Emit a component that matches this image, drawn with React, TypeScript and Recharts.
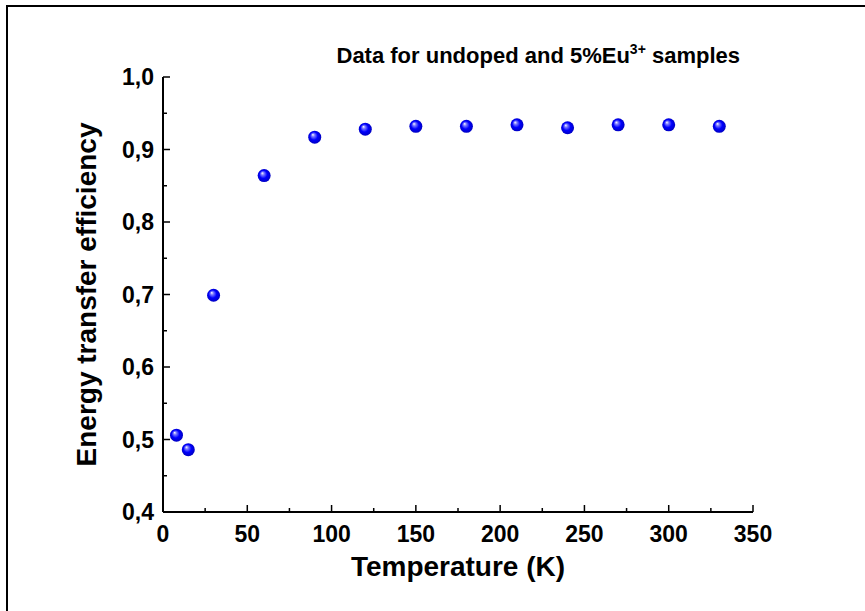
import { Scatter, ScatterChart, XAxis, YAxis } from 'recharts';

const TEMPERATURE = [8, 15, 30, 60, 90, 120, 150, 180, 210, 240, 270, 300, 330];
const EFFICIENCY = [0.506, 0.486, 0.699, 0.864, 0.917, 0.928, 0.932, 0.932, 0.934, 0.93, 0.934, 0.934, 0.932];

const X_TICKS = [0, 25, 50, 75, 100, 125, 150, 175, 200, 225, 250, 275, 300, 325, 350];
const Y_TICKS = [0.4, 0.45, 0.5, 0.55, 0.6, 0.65, 0.7, 0.75, 0.8, 0.85, 0.9, 0.95, 1.0];

const points = TEMPERATURE.map((t, i) => ({ t, eff: EFFICIENCY[i] }));

const FONT = '"Liberation Sans", Arial, sans-serif';
const MAJOR = 7;
const MINOR = 4;

const isMajorX = (v: number) => v % 50 === 0;
const isMajorY = (v: number) => Math.round(v * 100) % 10 === 0;
const fmtY = (v: number) => v.toFixed(1).replace('.', ',');

function LeftTick({ x, y, payload }: any) {
  const major = isMajorY(payload.value);
  return (
    <g>
      <line x1={x} x2={x + (major ? MAJOR : MINOR)} y1={y} y2={y} stroke="#000" strokeWidth={1.5} />
      {major && (
        <text x={x - 9} y={y} dy="0.36em" textAnchor="end" fontFamily={FONT} fontWeight="bold" fontSize={23} fill="#000">
          {fmtY(payload.value)}
        </text>
      )}
    </g>
  );
}

function RightTick({ x, y, payload }: any) {
  const len = isMajorY(payload.value) ? MAJOR : MINOR;
  return <line x1={x} x2={x - len} y1={y} y2={y} stroke="#000" strokeWidth={1.5} />;
}

function BottomTick({ x, y, payload }: any) {
  const major = isMajorX(payload.value);
  return (
    <g>
      <line x1={x} x2={x} y1={y} y2={y - (major ? MAJOR : MINOR)} stroke="#000" strokeWidth={1.5} />
      {major && (
        <text x={x} y={y + 30} textAnchor="middle" fontFamily={FONT} fontWeight="bold" fontSize={23} fill="#000">
          {payload.value}
        </text>
      )}
    </g>
  );
}

function TopTick({ x, y, payload }: any) {
  const len = isMajorX(payload.value) ? MAJOR : MINOR;
  return <line x1={x} x2={x} y1={y} y2={y + len} stroke="#000" strokeWidth={1.5} />;
}

function Ball({ cx, cy, index }: any) {
  const id = `ball-${index}`;
  return (
    <g>
      <defs>
        <radialGradient id={id} cx="50%" cy="50%" r="55%" fx="35%" fy="30%">
          <stop offset="0%" stopColor="#ffffff" />
          <stop offset="22%" stopColor="#7b7bff" />
          <stop offset="55%" stopColor="#0000ff" />
          <stop offset="100%" stopColor="#0000b8" />
        </radialGradient>
      </defs>
      <circle cx={cx} cy={cy} r={6.5} fill={`url(#${id})`} />
    </g>
  );
}

export default function App() {
  return (
    <div style={{ position: 'relative', width: 865, height: 611, overflow: 'hidden', background: '#fff' }}>
      <style>{'body{margin:0}'}</style>
      <div
        style={{
          position: 'absolute',
          left: 6,
          top: 5,
          width: 1000,
          height: 1000,
          borderLeft: '2px solid #000',
          borderTop: '2px solid #000',
        }}
      />
      <div style={{ position: 'absolute', left: 0, top: 0 }}>
        <ScatterChart width={865} height={611} margin={{ top: 77, right: 112, bottom: 0, left: 0 }}>
          <XAxis
            type="number"
            dataKey="t"
            domain={[0, 350]}
            ticks={X_TICKS}
            interval={0}
            height={99}
            tickSize={0}
            tickMargin={0}
            axisLine={{ stroke: '#000', strokeWidth: 2 }}
            tickLine={false}
            tick={<BottomTick />}
            label={({ viewBox }: any) => (
              <text
                x={viewBox.x + viewBox.width / 2}
                y={viewBox.y + 64}
                textAnchor="middle"
                fontFamily={FONT}
                fontWeight="bold"
                fontSize={28}
                fill="#000"
              >
                Temperature (K)
              </text>
            )}
          />
          <XAxis
            xAxisId="top"
            orientation="top"
            type="number"
            dataKey="t"
            domain={[0, 350]}
            ticks={X_TICKS}
            interval={0}
            height={0}
            tickSize={0}
            tickMargin={0}
            axisLine={{ stroke: '#000', strokeWidth: 2 }}
            tickLine={false}
            tick={<TopTick />}
          />
          <YAxis
            type="number"
            dataKey="eff"
            domain={[0.4, 1.0]}
            ticks={Y_TICKS}
            interval={0}
            width={163}
            tickSize={0}
            tickMargin={0}
            axisLine={{ stroke: '#000', strokeWidth: 2 }}
            tickLine={false}
            tick={<LeftTick />}
            label={({ viewBox }: any) => {
              const cx = viewBox.x + 96;
              const cy = viewBox.y + viewBox.height / 2;
              return (
                <text
                  x={cx}
                  y={cy}
                  transform={`rotate(-90 ${cx} ${cy})`}
                  textAnchor="middle"
                  fontFamily={FONT}
                  fontWeight="bold"
                  fontSize={28}
                  fill="#000"
                >
                  Energy transfer efficiency
                </text>
              );
            }}
          />
          <YAxis
            yAxisId="right"
            orientation="right"
            type="number"
            dataKey="eff"
            domain={[0.4, 1.0]}
            ticks={Y_TICKS}
            interval={0}
            width={0}
            tickSize={0}
            tickMargin={0}
            axisLine={{ stroke: '#000', strokeWidth: 2 }}
            tickLine={false}
            tick={<RightTick />}
          />
          <Scatter data={points} shape={<Ball />} isAnimationActive={false} />
        </ScatterChart>
      </div>
      <svg
        width={865}
        height={611}
        style={{ position: 'absolute', left: 0, top: 0, pointerEvents: 'none' }}
      >
        <text x={740} y={63} textAnchor="end" fontFamily={FONT} fontWeight="bold" fontSize={22} fill="#000">
          Data for undoped and 5%Eu
          <tspan fontSize={14} dy={-9}>3+</tspan>
          <tspan dy={9}> samples</tspan>
        </text>
      </svg>
    </div>
  );
}
